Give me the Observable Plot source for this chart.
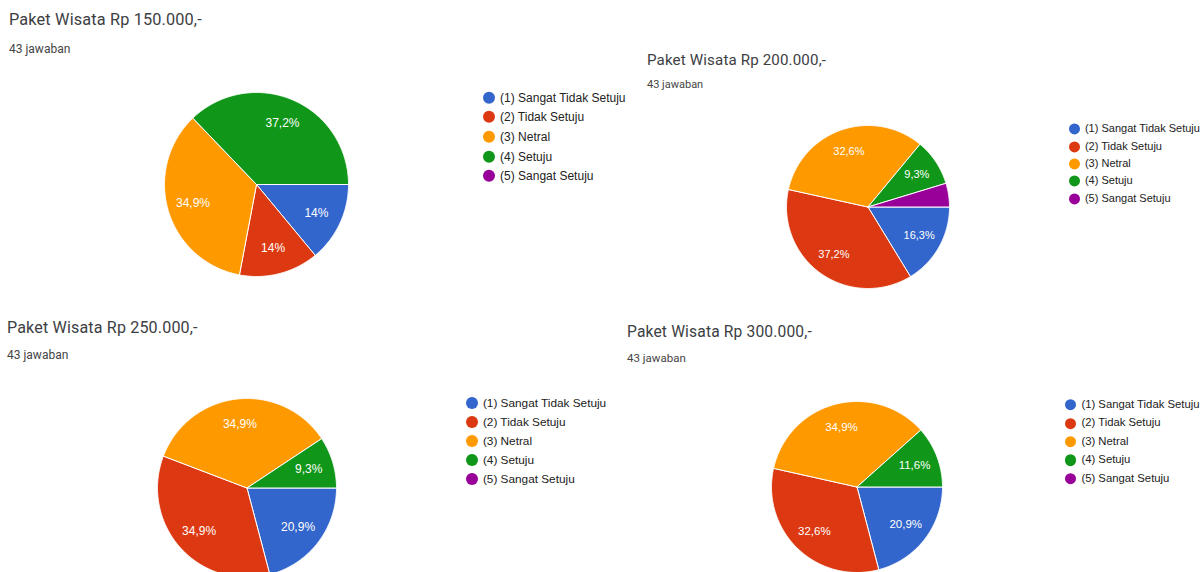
<!DOCTYPE html>
<html><head><meta charset="utf-8">
<script src="https://cdn.jsdelivr.net/npm/d3@7"></script>
<script src="https://cdn.jsdelivr.net/npm/@observablehq/plot@0.6"></script>
<style>
html,body{margin:0;padding:0;background:#fff;}
body{width:1201px;height:572px;overflow:hidden;position:relative;}
.abs{position:absolute;white-space:nowrap;transform:translateY(-50%);line-height:1.2;}
.title{font-family:Roboto,"Liberation Sans",sans-serif;color:#3c4043;letter-spacing:0.15px;}
.sub{font-family:Roboto,"Liberation Sans",sans-serif;color:#444;}
.leg{font-family:"Liberation Sans",Arial,sans-serif;color:#222;display:flex;align-items:center;}
.dot{border-radius:50%;display:inline-block;flex:none;}
svg{overflow:visible;}
</style></head><body>
<script>
// ---- data ----
const categories = ["(1) Sangat Tidak Setuju", "(2) Tidak Setuju", "(3) Netral", "(4) Setuju", "(5) Sangat Setuju"];
const colors = ["#3366cc", "#dc3912", "#ff9900", "#109618", "#990099"];
const titles = ["Paket Wisata Rp 150.000,-", "Paket Wisata Rp 200.000,-", "Paket Wisata Rp 250.000,-", "Paket Wisata Rp 300.000,-"];
const responses = ["43 jawaban", "43 jawaban", "43 jawaban", "43 jawaban"];
const pct150 = [14, 14, 34.9, 37.2, 0];
const pct200 = [16.3, 37.2, 32.6, 9.3, 4.7];
const pct250 = [20.9, 34.9, 34.9, 9.3, 0];
const pct300 = [20.9, 32.6, 34.9, 11.6, 0];
const series = [pct150, pct200, pct250, pct300];

// ---- layout (positions / sizes only) ----
const layout = [
  {tx: 9,   ty: 20,  tf: 16.3, sy: 49,  sf: 12,   cx: 256, cy: 184, r: 92,   lx: 488.7,  ly: 97.7,  ld: 19.6,  lf: 12,   pf: 12},
  {tx: 647, ty: 60,  tf: 15.1, sy: 85,  sf: 11,   cx: 867, cy: 206, r: 81.5, lx: 1074.5, ly: 129.3, ld: 17.35, lf: 11,   pf: 11},
  {tx: 7,   ty: 328, tf: 16.1, sy: 355, sf: 12,   cx: 246, cy: 487, r: 89.5, lx: 471.7,  ly: 403.3, ld: 19,    lf: 11.8, pf: 12},
  {tx: 627, ty: 332, tf: 15.6, sy: 359, sf: 11.5, cx: 856, cy: 486, r: 85.5, lx: 1070.7, ly: 405,   ld: 18.4,  lf: 11.3, pf: 11.5}
];

const fmt = v => (Number.isInteger(v) ? String(v) : v.toFixed(1).replace(".", ",")) + "%";

function pieData(values) {
  const total = d3.sum(values);
  let a = Math.PI / 2; // slices start at 3 o'clock, clockwise
  const pts = [], labels = [];
  values.forEach((v, i) => {
    const a0 = a, a1 = a + v / total * 2 * Math.PI;
    a = a1;
    if (v <= 0) return;
    const n = Math.max(2, Math.ceil((a1 - a0) / (Math.PI / 360)));
    pts.push({k: categories[i], x: 0, y: 0});
    for (let j = 0; j <= n; j++) {
      const t = a0 + (a1 - a0) * j / n;
      pts.push({k: categories[i], x: Math.sin(t), y: Math.cos(t)});
    }
    pts.push({k: categories[i], x: 0, y: 0});
    const m = (a0 + a1) / 2;
    if (v >= 5) labels.push({x: 0.72 * Math.sin(m), y: 0.72 * Math.cos(m), text: fmt(v)});
  });
  return {pts, labels};
}

function add(el, left, top) {
  el.style.position = "absolute";
  el.style.left = left + "px";
  el.style.top = top + "px";
  document.body.appendChild(el);
}

series.forEach((values, p) => {
  const L = layout[p];
  const t = document.createElement("div");
  t.className = "abs title"; t.textContent = titles[p]; t.style.fontSize = L.tf + "px";
  add(t, L.tx, L.ty);
  const s = document.createElement("div");
  s.className = "abs sub"; s.textContent = responses[p]; s.style.fontSize = L.sf + "px";
  add(s, L.tx, L.sy);

  const {pts, labels} = pieData(values);
  const pad = 2;
  const size = 2 * L.r + 2 * pad;
  const chart = Plot.plot({
    width: size, height: size, margin: pad,
    x: {domain: [-1, 1], axis: null},
    y: {domain: [-1, 1], axis: null},
    color: {domain: categories, range: colors},
    style: {background: "transparent", overflow: "visible"},
    marks: [
      Plot.line(pts, {x: "x", y: "y", z: "k", fill: "k", stroke: "white", strokeWidth: 1, curve: "linear"}),
      Plot.text(labels, {x: "x", y: "y", text: "text", fill: "white", fontSize: L.pf,
        fontFamily: "'Liberation Sans', Arial, sans-serif"})
    ]
  });
  add(chart, L.cx - L.r - pad, L.cy - L.r - pad);

  categories.forEach((c, i) => {
    const row = document.createElement("div");
    row.className = "abs leg";
    row.style.fontSize = L.lf + "px";
    const d = document.createElement("span");
    d.className = "dot";
    const ds = L.lf;
    d.style.width = ds + "px"; d.style.height = ds + "px"; d.style.background = colors[i];
    d.style.marginRight = (L.lf * 0.45) + "px";
    const tx = document.createElement("span"); tx.textContent = c;
    row.appendChild(d); row.appendChild(tx);
    add(row, L.lx - ds / 2, L.ly + i * L.ld);
  });
});
</script>
</body></html>
